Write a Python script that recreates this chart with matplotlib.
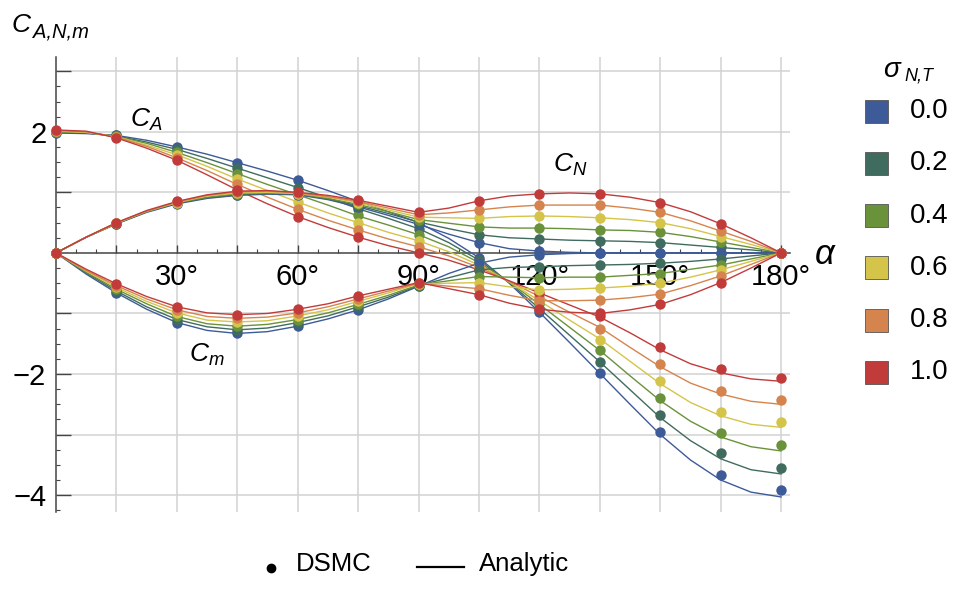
"""Force coefficients C_A, C_N, C_m vs angle of attack: DSMC points and analytic curves
for six accommodation coefficients sigma_{N,T}."""
import matplotlib
matplotlib.use("Agg")
import matplotlib.pyplot as plt
from matplotlib.lines import Line2D
from matplotlib.patches import Rectangle
from matplotlib.ticker import FixedLocator, MultipleLocator, FuncFormatter, NullFormatter

plt.rcParams["font.family"] = "Liberation Sans"
plt.rcParams["mathtext.fontset"] = "custom"
plt.rcParams["mathtext.rm"] = "Liberation Sans"
plt.rcParams["mathtext.it"] = "Liberation Sans:italic"

SIGMA = ["0.0", "0.2", "0.4", "0.6", "0.8", "1.0"]
COLORS = ["#3D5A99", "#406C5F", "#6A923A", "#D5C44A", "#D6844E", "#C23B3B"]

ALPHA_DSMC = [0, 15, 30, 45, 60, 75, 90, 105, 120, 135, 150, 165, 180]
ALPHA_LINE = [0, 7.5, 15, 22.5, 30, 37.5, 45, 52.5, 60, 67.5, 75, 82.5, 90,
              97.5, 105, 112.5, 120, 127.5, 135, 142.5, 150, 157.5, 165, 172.5, 180]

# analytic curves, one row per sigma (0.0 ... 1.0)
CA_LINE = [
    [1.98, 1.97, 1.94, 1.86, 1.75, 1.63, 1.49, 1.35, 1.20, 1.03, 0.85, 0.68, 0.50,
     0.24, -0.08, -0.50, -0.98, -1.48, -1.99, -2.50, -3.00, -3.42, -3.75, -3.95, -4.03],
    [1.99, 1.98, 1.93, 1.83, 1.71, 1.56, 1.40, 1.24, 1.08, 0.91, 0.73, 0.57, 0.40,
     0.17, -0.12, -0.49, -0.92, -1.36, -1.80, -2.26, -2.72, -3.10, -3.40, -3.58, -3.65],
    [2.00, 1.99, 1.92, 1.81, 1.66, 1.49, 1.31, 1.13, 0.96, 0.79, 0.61, 0.46, 0.30,
     0.10, -0.16, -0.48, -0.85, -1.23, -1.61, -2.03, -2.44, -2.78, -3.04, -3.20, -3.27],
    [2.01, 1.99, 1.92, 1.78, 1.62, 1.43, 1.22, 1.03, 0.84, 0.66, 0.50, 0.34, 0.20,
     0.02, -0.20, -0.48, -0.79, -1.11, -1.42, -1.79, -2.16, -2.47, -2.69, -2.83, -2.88],
    [2.02, 2.00, 1.91, 1.76, 1.57, 1.36, 1.13, 0.92, 0.72, 0.54, 0.38, 0.23, 0.10,
     -0.05, -0.24, -0.47, -0.72, -0.98, -1.23, -1.56, -1.88, -2.15, -2.33, -2.45, -2.50],
    [2.03, 2.01, 1.90, 1.73, 1.53, 1.29, 1.04, 0.81, 0.60, 0.42, 0.26, 0.12, 0.00,
     -0.12, -0.28, -0.46, -0.66, -0.86, -1.06, -1.32, -1.60, -1.83, -1.98, -2.08, -2.12],
]
CN_LINE = [
    [0, 0.26, 0.48, 0.67, 0.81, 0.90, 0.95, 0.97, 0.96, 0.88, 0.76, 0.62, 0.47,
     0.31, 0.17, 0.07, 0.03, 0.01, 0.00, 0.00, 0.00, 0.00, 0.00, 0.00, 0],
    [0, 0.26, 0.48, 0.68, 0.82, 0.91, 0.96, 0.98, 0.97, 0.89, 0.78, 0.65, 0.51,
     0.40, 0.30, 0.25, 0.23, 0.21, 0.20, 0.19, 0.17, 0.13, 0.09, 0.05, 0],
    [0, 0.26, 0.49, 0.68, 0.83, 0.92, 0.98, 0.99, 0.98, 0.90, 0.80, 0.68, 0.55,
     0.49, 0.43, 0.41, 0.41, 0.40, 0.38, 0.37, 0.34, 0.27, 0.18, 0.09, 0],
    [0, 0.26, 0.49, 0.69, 0.83, 0.94, 0.99, 1.00, 0.98, 0.92, 0.83, 0.71, 0.59,
     0.58, 0.57, 0.60, 0.61, 0.60, 0.58, 0.55, 0.50, 0.40, 0.27, 0.14, 0],
    [0, 0.26, 0.50, 0.69, 0.84, 0.95, 1.01, 1.02, 0.99, 0.93, 0.85, 0.74, 0.63,
     0.66, 0.71, 0.76, 0.79, 0.79, 0.79, 0.74, 0.67, 0.53, 0.36, 0.19, 0],
    [0, 0.26, 0.50, 0.70, 0.85, 0.96, 1.02, 1.03, 1.00, 0.95, 0.87, 0.77, 0.67,
     0.74, 0.86, 0.94, 0.975, 0.99, 0.975, 0.92, 0.83, 0.68, 0.48, 0.25, 0],
]
CM_LINE = [
    [0, -0.35, -0.66, -0.93, -1.15, -1.28, -1.33, -1.30, -1.21, -1.09, -0.94, -0.76, -0.55,
     -0.34, -0.17, -0.07, -0.03, -0.01, 0.00, 0.00, 0.00, 0.00, 0.00, 0.00, 0],
    [0, -0.33, -0.63, -0.89, -1.10, -1.22, -1.27, -1.24, -1.15, -1.04, -0.89, -0.73, -0.54,
     -0.41, -0.28, -0.24, -0.23, -0.21, -0.20, -0.19, -0.17, -0.14, -0.10, -0.05, 0],
    [0, -0.32, -0.60, -0.84, -1.05, -1.17, -1.21, -1.18, -1.10, -0.99, -0.85, -0.70, -0.53,
     -0.46, -0.39, -0.40, -0.41, -0.40, -0.40, -0.37, -0.34, -0.27, -0.20, -0.10, 0],
    [0, -0.30, -0.57, -0.80, -0.99, -1.11, -1.14, -1.12, -1.04, -0.94, -0.80, -0.66, -0.51,
     -0.50, -0.49, -0.56, -0.61, -0.60, -0.58, -0.55, -0.50, -0.40, -0.28, -0.14, 0],
    [0, -0.29, -0.54, -0.76, -0.94, -1.05, -1.08, -1.06, -0.99, -0.89, -0.76, -0.63, -0.50,
     -0.55, -0.59, -0.70, -0.79, -0.79, -0.78, -0.74, -0.68, -0.54, -0.38, -0.19, 0],
    [0, -0.27, -0.51, -0.72, -0.89, -0.99, -1.02, -1.00, -0.93, -0.84, -0.71, -0.60, -0.49,
     -0.59, -0.69, -0.83, -0.93, -0.98, -1.00, -0.94, -0.85, -0.69, -0.49, -0.25, 0],
]

# DSMC points, one row per sigma
CA_DSMC = [
    [1.98, 1.95, 1.75, 1.49, 1.20, 0.85, 0.50, -0.08, -0.98, -1.99, -2.95, -3.66, -3.92],
    [1.99, 1.94, 1.71, 1.40, 1.08, 0.73, 0.40, -0.12, -0.92, -1.80, -2.68, -3.31, -3.55],
    [2.00, 1.93, 1.66, 1.31, 0.96, 0.62, 0.30, -0.16, -0.85, -1.61, -2.39, -2.97, -3.17],
    [2.01, 1.92, 1.62, 1.22, 0.84, 0.50, 0.20, -0.20, -0.79, -1.44, -2.11, -2.62, -2.80],
    [2.02, 1.91, 1.57, 1.13, 0.72, 0.38, 0.10, -0.24, -0.72, -1.26, -1.83, -2.28, -2.43],
    [2.03, 1.90, 1.53, 1.04, 0.60, 0.26, 0.00, -0.28, -0.66, -1.04, -1.56, -1.92, -2.06],
]
CN_DSMC = [
    [0, 0.48, 0.81, 0.95, 0.96, 0.76, 0.47, 0.17, 0.03, 0.00, 0.00, 0.00, 0],
    [0, 0.48, 0.82, 0.96, 0.97, 0.78, 0.51, 0.30, 0.23, 0.20, 0.17, 0.09, 0],
    [0, 0.49, 0.83, 0.98, 0.98, 0.80, 0.55, 0.43, 0.41, 0.38, 0.34, 0.18, 0],
    [0, 0.49, 0.83, 0.99, 0.98, 0.83, 0.59, 0.57, 0.61, 0.58, 0.50, 0.27, 0],
    [0, 0.50, 0.84, 1.01, 0.99, 0.85, 0.63, 0.71, 0.79, 0.79, 0.67, 0.36, 0],
    [0, 0.50, 0.85, 1.02, 1.00, 0.87, 0.67, 0.86, 0.975, 0.975, 0.83, 0.48, 0],
]
CM_DSMC = [
    [0, -0.66, -1.15, -1.33, -1.21, -0.94, -0.55, -0.17, -0.03, 0.00, 0.00, 0.00, 0],
    [0, -0.63, -1.10, -1.27, -1.15, -0.89, -0.54, -0.28, -0.23, -0.20, -0.17, -0.10, 0],
    [0, -0.60, -1.05, -1.21, -1.10, -0.85, -0.53, -0.39, -0.41, -0.40, -0.34, -0.20, 0],
    [0, -0.57, -0.99, -1.14, -1.04, -0.80, -0.51, -0.49, -0.61, -0.58, -0.50, -0.28, 0],
    [0, -0.54, -0.94, -1.08, -0.99, -0.76, -0.50, -0.59, -0.79, -0.78, -0.68, -0.38, 0],
    [0, -0.51, -0.89, -1.02, -0.93, -0.71, -0.49, -0.69, -0.93, -1.00, -0.85, -0.49, 0],
]

W, H = 955, 590


def fx(px):
    return px / W


def fy(py):
    return 1 - py / H


fig = plt.figure(figsize=(W / 100, H / 100), dpi=100)
ax = fig.add_axes([fx(56), fy(511.5), (790 - 56) / W, (511.5 - 56.7) / H])
ax.set_xlim(0, 182.2)
ax.set_ylim(-4.27, 3.24)

for line_set in (CA_LINE, CN_LINE, CM_LINE):
    for vals, c in zip(line_set, COLORS):
        ax.plot(ALPHA_LINE, vals, color=c, lw=1.0, zorder=3, clip_on=False)
for dot_set in (CA_DSMC, CN_DSMC, CM_DSMC):
    for vals, c in zip(dot_set, COLORS):
        ax.plot(ALPHA_DSMC, vals, "o", color=c, ms=7.5, mec="none", zorder=4, clip_on=False)

# Mathematica-like axes through the origin
for side in ("top", "right"):
    ax.spines[side].set_visible(False)
ax.spines["left"].set_position(("data", 0))
ax.spines["bottom"].set_position(("data", 0))
for side in ("left", "bottom"):
    ax.spines[side].set_color("#444444")
    ax.spines[side].set_linewidth(1.1)

ax.xaxis.set_major_locator(FixedLocator(list(range(15, 181, 15))))
ax.xaxis.set_minor_locator(MultipleLocator(5))
ax.xaxis.set_major_formatter(FuncFormatter(lambda v, p: f"{int(v)}°" if int(v) % 30 == 0 else ""))
ax.yaxis.set_major_locator(FixedLocator([-4, -3, -2, -1, 1, 2, 3]))
ax.yaxis.set_minor_locator(MultipleLocator(0.25))
ax.yaxis.set_major_formatter(FuncFormatter(
    lambda v, p: (f"{int(v)}".replace("-", "\u2212")) if int(v) in (2, -2, -4) else ""))
ax.yaxis.set_minor_formatter(NullFormatter())

ax.tick_params(axis="x", which="major", direction="in", length=6, width=1, color="#444444",
               labelsize=21, pad=7)
ax.tick_params(axis="x", which="minor", direction="in", length=3, width=0.8, color="#444444")
ax.tick_params(axis="y", which="major", direction="in", length=10.5, width=1, color="#444444",
               labelsize=21, pad=7)
ax.tick_params(axis="y", which="minor", direction="in", length=3, width=0.8, color="#444444")
ax.grid(True, which="major", color="#d2d2d2", lw=1.1)
ax.set_axisbelow(True)

ax.text(18.4, 2.08, r"$C_A$", fontsize=19, ha="left", va="baseline", zorder=5)
ax.text(123.4, 1.34, r"$C_N$", fontsize=19, ha="left", va="baseline", zorder=5)
ax.text(33.0, -1.80, r"$C_m$", fontsize=19, ha="left", va="baseline", zorder=5)

# y-axis label C_{A,N,m} and x-axis label alpha
fig.text(fx(12), fy(32), "C", fontsize=19, style="italic", ha="left", va="baseline")
fig.text(fx(33), fy(37), "A,N,m", fontsize=14.5, style="italic", ha="left", va="baseline")
fig.text(fx(815), fy(264), "α", fontsize=25, style="italic", ha="left", va="baseline")

# sigma legend on the right
fig.text(fx(883), fy(77), "σ", fontsize=20, style="italic", ha="left", va="baseline")
fig.text(fx(904), fy(81), "N,T", fontsize=13, style="italic", ha="left", va="baseline")
for i, (lab, c) in enumerate(zip(SIGMA, COLORS)):
    yc = 111.3 + 52.2 * i
    fig.add_artist(Rectangle((fx(865), fy(yc + 11.5)), 23 / W, 23 / H, transform=fig.transFigure,
                             facecolor=c, edgecolor="#555555", lw=0.6))
    fig.text(fx(910), fy(yc), lab, fontsize=20, ha="left", va="center")

# bottom legend
fig.add_artist(Line2D([fx(271)], [fy(568)], marker="o", ms=6, color="black",
                      transform=fig.transFigure))
fig.text(fx(296), fy(571), "DSMC", fontsize=18.5, ha="left", va="baseline")
fig.add_artist(Line2D([fx(417), fx(464)], [fy(567), fy(567)], lw=1.6, color="black",
                      transform=fig.transFigure))
fig.text(fx(479), fy(571), "Analytic", fontsize=18.5, ha="left", va="baseline")

fig.savefig("out.png", dpi=100)
